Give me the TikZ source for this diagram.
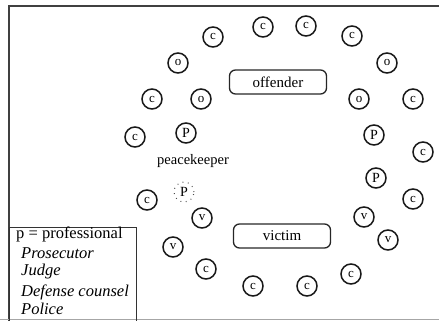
\documentclass[tikz,border=0pt]{standalone}
\usepackage{fontspec}
\setmainfont{Liberation Serif}
\begin{document}
\begin{tikzpicture}[x=1pt,y=-1pt,
  seat/.style={circle,draw=black!90,line width=1.5pt,minimum size=20pt,inner sep=0pt,font=\fontsize{13}{13}\selectfont},
  party/.style={rounded corners=6pt,draw=black!85,line width=1.3pt,minimum width=97pt,minimum height=24pt,inner sep=0pt,font=\fontsize{15}{15}\selectfont},
  legendtxt/.style={anchor=west,inner sep=0pt,font=\fontsize{16.5}{16.5}\selectfont}]
\useasboundingbox (0,0) rectangle (439,321);
% outer frame
\draw[line width=1.4pt,black!75] (439,6) -- (9,6) -- (9,321);
\draw[line width=1pt,black!35] (0,319.5) -- (439,319.5);

% offender and victim
\node[party] (off) at (278,82) {offender};
\node[party] (vic) at (282,236) {victim};

% community ring
\node[seat] (c1) at (213,37) {c};
\node[seat] (c2) at (263,27) {c};
\node[seat] (c3) at (306,26) {c};
\node[seat] (c4) at (352,36) {c};
\node[seat] (c5) at (152,99) {c};
\node[seat] (c6) at (413,99) {c};
\node[seat] (c7) at (135,137) {c};
\node[seat] (c8) at (423,152) {c};
\node[seat] (c9) at (147,200) {c};
\node[seat] (c10) at (413,199) {c};
\node[seat] (c11) at (206,269) {c};
\node[seat] (c12) at (351,274) {c};
\node[seat] (c13) at (253,286) {c};
\node[seat] (c14) at (307,286) {c};

% offender supporters
\node[seat] (o1) at (178,63) {o};
\node[seat] (o2) at (201,99) {o};
\node[seat] (o3) at (387,63) {o};
\node[seat] (o4) at (359,99) {o};

% victim supporters
\node[seat] (v1) at (202,218) {v};
\node[seat] (v2) at (173,247) {v};
\node[seat] (v3) at (364,217) {v};
\node[seat] (v4) at (388,240) {v};

% professionals
\node[seat,font=\fontsize{14}{14}\selectfont] (p1) at (186,133) {P};
\node[seat,font=\fontsize{14}{14}\selectfont] (p2) at (374,135) {P};
\node[seat,font=\fontsize{14}{14}\selectfont] (p3) at (376,178) {P};
\node[seat,draw=black!70,line width=1pt,dash pattern=on 0.9pt off 4.5pt,font=\fontsize{14}{14}\selectfont] (pk) at (184,192) {P};
\node[font=\fontsize{14.5}{14.5}\selectfont,inner sep=0pt] (pklabel) at (193,161) {peacekeeper};

% legend
\node[draw=black!80,line width=1pt,anchor=north west,minimum width=127pt,minimum height=94pt,inner sep=0pt] (legend) at (9,227) {};
\node[legendtxt] (l0) at (16,234) {p = professional};
\node[legendtxt,font=\fontsize{16.5}{16.5}\itshape] (l1) at (21,253) {Prosecutor};
\node[legendtxt,font=\fontsize{16.5}{16.5}\itshape] (l2) at (21,272) {Judge};
\node[legendtxt,font=\fontsize{16.5}{16.5}\itshape] (l3) at (21,292) {Defense counsel};
\node[legendtxt,font=\fontsize{16.5}{16.5}\itshape] (l4) at (21,309) {Police};
\end{tikzpicture}
\end{document}
